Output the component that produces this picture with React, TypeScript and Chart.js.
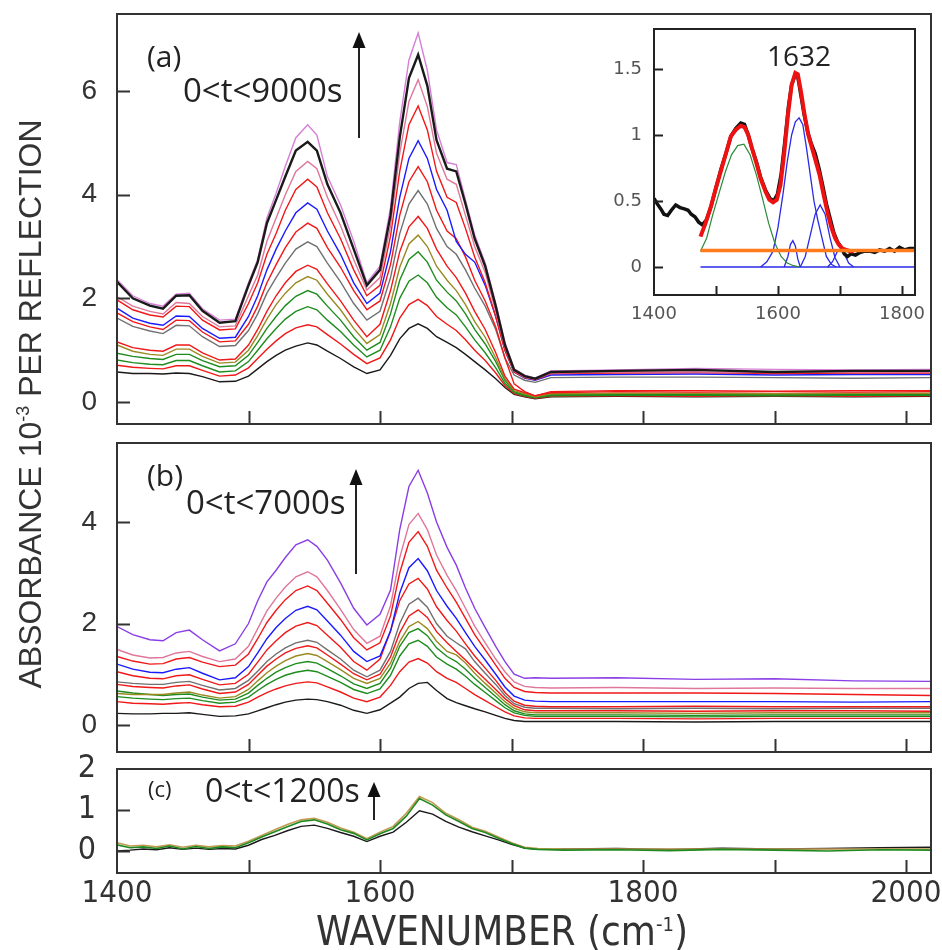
import React, { useEffect, useRef } from "react";
import { Chart, registerables } from "chart.js";
Chart.register(...registerables);

// ---------- DATA ----------
const WN = [1400,1412,1425,1435,1445,1455,1465,1478,1490,1500,1507,1514,1521,1528,1536,1545,1552,1560,1570,1580,1590,1600,1608,1615,1622,1629,1636,1643,1651,1658,1665,1672,1680,1688,1695,1702,1710,1718,1730,1780,1840,1900,1960,2019];

// panel (a) 0<t<9000s
const aViolet = [2.36,2.05,1.90,1.85,2.08,2.10,1.80,1.58,1.60,2.30,2.75,3.55,4.03,4.55,5.10,5.35,5.15,4.35,3.80,3.10,2.30,2.62,3.75,5.40,6.60,7.12,6.40,5.25,4.62,4.58,3.90,3.22,2.68,1.90,1.15,0.64,0.52,0.46,0.60,0.62,0.65,0.63,0.62,0.63];
const aBlackTop = [2.32,2.00,1.86,1.80,2.05,2.06,1.76,1.53,1.56,2.25,2.70,3.45,3.90,4.35,4.85,5.02,4.85,4.20,3.65,2.95,2.25,2.55,3.60,5.10,6.25,6.70,6.10,5.05,4.50,4.45,3.82,3.15,2.62,1.85,1.10,0.62,0.50,0.45,0.58,0.60,0.62,0.58,0.60,0.60];
const aPink = [2.03,1.85,1.75,1.70,1.92,1.90,1.65,1.45,1.47,2.05,2.45,3.10,3.55,4.00,4.45,4.64,4.50,3.95,3.40,2.75,2.16,2.40,3.40,4.80,5.80,6.22,5.70,4.80,4.30,4.20,3.60,3.00,2.50,1.75,1.05,0.60,0.48,0.44,0.56,0.58,0.58,0.57,0.58,0.58];
const aRed1 = [1.97,1.78,1.68,1.64,1.85,1.84,1.58,1.39,1.41,1.90,2.30,2.85,3.25,3.70,4.10,4.30,4.15,3.65,3.15,2.55,2.05,2.25,3.20,4.45,5.35,5.71,5.25,4.45,3.95,3.85,3.35,2.80,2.30,1.65,1.00,0.58,0.47,0.43,0.55,0.56,0.57,0.55,0.56,0.56];
const aBlue = [1.81,1.62,1.52,1.48,1.66,1.65,1.42,1.23,1.25,1.65,2.05,2.55,2.95,3.30,3.65,3.84,3.72,3.30,2.85,2.30,1.90,2.10,2.90,3.95,4.70,5.04,4.70,4.10,3.70,3.10,2.85,2.70,2.25,1.65,1.00,0.58,0.46,0.42,0.52,0.53,0.54,0.52,0.53,0.53];
const aRed2 = [1.72,1.55,1.45,1.40,1.58,1.57,1.35,1.16,1.18,1.50,1.85,2.30,2.65,2.98,3.28,3.45,3.35,2.98,2.60,2.15,1.78,1.95,2.65,3.60,4.25,4.54,4.25,3.70,3.30,3.15,2.80,2.35,1.95,1.45,0.85,0.35,0.20,0.12,0.20,0.22,0.22,0.21,0.22,0.22];
const aGray = [1.62,1.46,1.37,1.32,1.48,1.47,1.26,1.07,1.09,1.38,1.70,2.10,2.40,2.68,2.95,3.09,3.00,2.68,2.32,1.90,1.58,1.75,2.40,3.25,3.82,4.08,3.82,3.35,3.00,2.85,2.55,2.20,1.85,1.40,0.85,0.52,0.42,0.38,0.47,0.48,0.48,0.47,0.46,0.47];
const aRed3 = [1.16,1.05,1.00,0.98,1.10,1.10,0.95,0.81,0.83,1.10,1.40,1.75,2.05,2.30,2.52,2.64,2.56,2.28,1.95,1.58,1.26,1.50,2.15,2.90,3.38,3.58,3.35,2.95,2.62,2.40,2.10,1.75,1.40,0.95,0.50,0.25,0.18,0.12,0.18,0.20,0.19,0.20,0.19,0.20];
const aOlive = [1.10,0.98,0.92,0.90,1.02,1.02,0.88,0.75,0.77,1.00,1.28,1.60,1.88,2.10,2.30,2.42,2.35,2.08,1.78,1.42,1.13,1.30,1.90,2.60,3.05,3.22,3.00,2.62,2.35,2.15,1.88,1.55,1.25,0.85,0.45,0.22,0.16,0.10,0.16,0.17,0.17,0.16,0.17,0.17];
const aGreen1 = [0.94,0.88,0.84,0.82,0.92,0.92,0.80,0.68,0.70,0.90,1.15,1.42,1.65,1.86,2.04,2.15,2.08,1.85,1.58,1.26,1.00,1.15,1.70,2.35,2.75,2.90,2.70,2.35,2.12,1.95,1.70,1.40,1.12,0.78,0.42,0.20,0.14,0.09,0.14,0.15,0.14,0.15,0.14,0.15];
const aGreen2 = [0.81,0.76,0.73,0.72,0.80,0.80,0.70,0.58,0.60,0.78,1.00,1.22,1.42,1.60,1.75,1.84,1.78,1.58,1.36,1.10,0.87,1.00,1.45,2.00,2.33,2.45,2.30,2.02,1.82,1.68,1.45,1.20,0.95,0.66,0.36,0.18,0.12,0.08,0.12,0.13,0.13,0.12,0.13,0.13];
const aRed4 = [0.71,0.67,0.65,0.64,0.70,0.70,0.61,0.50,0.52,0.66,0.84,1.02,1.18,1.32,1.43,1.49,1.45,1.30,1.12,0.92,0.74,0.85,1.20,1.62,1.88,1.98,1.86,1.65,1.50,1.38,1.20,1.00,0.80,0.56,0.32,0.16,0.11,0.07,0.11,0.12,0.11,0.12,0.11,0.12];
const aBlackBottom = [0.58,0.55,0.55,0.54,0.56,0.55,0.49,0.39,0.40,0.50,0.64,0.78,0.90,1.00,1.08,1.14,1.10,0.98,0.84,0.68,0.55,0.62,0.90,1.22,1.42,1.51,1.42,1.26,1.15,1.05,0.92,0.78,0.62,0.45,0.28,0.15,0.10,0.06,0.10,0.11,0.10,0.11,0.10,0.11];

// panel (b) 0<t<7000s
const bPurple = [1.94,1.78,1.68,1.66,1.82,1.87,1.68,1.46,1.60,2.00,2.45,2.82,3.05,3.30,3.55,3.65,3.52,3.25,2.80,2.30,1.97,2.18,2.66,3.85,4.70,5.02,4.57,4.00,3.50,3.15,2.70,2.30,1.92,1.55,1.25,1.00,0.92,0.93,0.92,0.93,0.90,0.91,0.87,0.86];
const bPink = [1.49,1.38,1.32,1.33,1.42,1.45,1.35,1.25,1.30,1.55,1.90,2.25,2.50,2.72,2.92,3.02,2.92,2.65,2.28,1.88,1.61,1.75,2.35,3.30,3.95,4.17,3.85,3.35,2.95,2.65,2.30,1.95,1.62,1.30,1.05,0.85,0.76,0.74,0.73,0.74,0.72,0.73,0.72,0.72];
const bRed1 = [1.35,1.26,1.20,1.21,1.30,1.33,1.24,1.15,1.18,1.40,1.70,2.02,2.26,2.47,2.65,2.74,2.65,2.40,2.08,1.72,1.48,1.62,2.15,3.00,3.60,3.81,3.52,3.05,2.70,2.42,2.10,1.78,1.48,1.18,0.92,0.74,0.66,0.64,0.63,0.63,0.63,0.62,0.60,0.58];
const bBlue = [1.20,1.10,1.04,1.03,1.10,1.13,1.02,0.89,0.93,1.15,1.42,1.70,1.92,2.10,2.26,2.34,2.27,2.05,1.77,1.45,1.25,1.36,1.85,2.60,3.10,3.28,3.04,2.65,2.34,2.10,1.82,1.55,1.28,1.00,0.75,0.57,0.49,0.47,0.46,0.46,0.46,0.46,0.45,0.46];
const bRed2 = [1.05,0.97,0.92,0.91,0.97,0.99,0.90,0.79,0.82,1.00,1.24,1.48,1.66,1.82,1.95,2.02,1.96,1.77,1.53,1.25,1.08,1.30,1.85,2.45,2.78,2.89,2.68,2.33,2.06,1.85,1.60,1.36,1.12,0.88,0.64,0.47,0.39,0.37,0.36,0.36,0.37,0.36,0.36,0.36];
const bGray = [0.85,0.82,0.80,0.80,0.84,0.86,0.78,0.69,0.72,0.88,1.06,1.25,1.40,1.52,1.62,1.67,1.63,1.48,1.30,1.08,0.95,1.08,1.45,2.00,2.38,2.50,2.32,2.00,1.75,1.62,1.50,1.25,1.02,0.80,0.58,0.42,0.35,0.33,0.33,0.32,0.33,0.32,0.33,0.33];
const bRed3 = [0.80,0.76,0.74,0.73,0.77,0.79,0.71,0.62,0.65,0.80,0.98,1.16,1.30,1.42,1.51,1.56,1.52,1.38,1.20,1.01,0.89,1.00,1.34,1.82,2.15,2.27,2.12,1.84,1.62,1.45,1.28,1.10,0.90,0.70,0.52,0.38,0.30,0.28,0.28,0.28,0.27,0.28,0.28,0.27];
const bOlive = [0.62,0.60,0.60,0.60,0.63,0.65,0.59,0.53,0.56,0.70,0.87,1.03,1.16,1.27,1.36,1.41,1.37,1.25,1.09,0.92,0.82,0.92,1.22,1.65,1.94,2.04,1.90,1.65,1.45,1.38,1.22,1.02,0.82,0.63,0.46,0.33,0.26,0.24,0.24,0.24,0.23,0.24,0.24,0.24];
const bGreen1 = [0.67,0.63,0.60,0.58,0.60,0.61,0.55,0.49,0.51,0.63,0.78,0.92,1.04,1.13,1.21,1.25,1.22,1.11,0.97,0.81,0.72,0.82,1.12,1.55,1.82,1.90,1.76,1.52,1.35,1.25,1.10,0.92,0.74,0.56,0.40,0.28,0.22,0.20,0.20,0.20,0.19,0.20,0.20,0.20];
const bGreen2 = [0.56,0.53,0.51,0.50,0.52,0.53,0.48,0.43,0.45,0.55,0.68,0.80,0.90,0.98,1.04,1.08,1.05,0.96,0.84,0.70,0.62,0.71,0.98,1.36,1.60,1.67,1.55,1.34,1.20,1.10,0.96,0.80,0.64,0.48,0.34,0.24,0.19,0.17,0.17,0.17,0.16,0.17,0.17,0.17];
const bRed4 = [0.46,0.43,0.42,0.41,0.43,0.44,0.40,0.36,0.37,0.45,0.55,0.64,0.71,0.77,0.82,0.85,0.83,0.75,0.65,0.53,0.46,0.55,0.78,1.05,1.24,1.31,1.22,1.05,0.92,0.84,0.72,0.60,0.48,0.36,0.26,0.18,0.14,0.13,0.13,0.13,0.12,0.13,0.13,0.13];
const bBlack = [0.23,0.22,0.22,0.23,0.23,0.24,0.21,0.17,0.18,0.22,0.28,0.34,0.40,0.45,0.49,0.51,0.50,0.46,0.39,0.29,0.23,0.30,0.43,0.55,0.72,0.82,0.84,0.68,0.52,0.44,0.38,0.32,0.26,0.19,0.13,0.09,0.07,0.07,0.07,0.07,0.06,0.07,0.07,0.07];

// panel (c) 0<t<1200s
const WNC = [1400,1410,1420,1430,1440,1450,1460,1470,1480,1490,1500,1510,1520,1530,1540,1550,1560,1570,1580,1590,1600,1610,1620,1630,1640,1650,1660,1670,1680,1690,1700,1710,1720,1740,1780,1820,1860,1900,1940,1980,2019];
const cGreen = [0.15,0.08,0.10,0.06,0.12,0.05,0.11,0.06,0.10,0.08,0.20,0.34,0.47,0.60,0.72,0.76,0.66,0.52,0.43,0.27,0.42,0.55,0.85,1.28,1.12,0.88,0.72,0.55,0.45,0.31,0.18,0.07,0.04,0.02,0.03,0.01,0.04,0.02,0.00,0.03,0.02];
const cOlive = [0.20,0.12,0.14,0.10,0.15,0.09,0.14,0.10,0.13,0.12,0.24,0.38,0.52,0.65,0.76,0.80,0.70,0.56,0.46,0.30,0.46,0.60,0.92,1.33,1.18,0.92,0.76,0.58,0.48,0.34,0.20,0.09,0.06,0.05,0.05,0.05,0.05,0.05,0.05,0.05,0.05];
const cBlack = [0.00,0.02,0.05,0.03,0.08,0.04,0.07,0.04,0.06,0.05,0.14,0.28,0.38,0.50,0.60,0.63,0.55,0.45,0.36,0.23,0.36,0.46,0.70,0.98,0.90,0.72,0.58,0.47,0.37,0.27,0.16,0.07,0.04,0.05,0.06,0.04,0.07,0.05,0.06,0.08,0.09];

// inset (fit of band at 1632)
const insDataWN = [1400,1405,1411,1416,1422,1428,1435,1442,1449,1455,1460,1466,1472,1478,1485,1492,1500,1508,1516,1524,1532,1540,1546,1552,1558,1565,1572,1580,1587,1593,1599,1605,1611,1617,1622,1628,1632,1637,1642,1648,1654,1660,1666,1672,1678,1684,1690,1696,1702,1707,1712,1718,1725,1732,1740,1748,1756,1764,1772,1780,1788,1796,1804,1812,1821];
const insData = [0.52,0.48,0.44,0.40,0.39,0.43,0.47,0.45,0.44,0.43,0.40,0.38,0.34,0.32,0.36,0.46,0.60,0.74,0.86,0.99,1.05,1.09,1.08,1.00,0.90,0.80,0.68,0.58,0.52,0.50,0.55,0.70,0.95,1.22,1.38,1.46,1.44,1.30,1.16,1.02,0.93,0.86,0.75,0.62,0.48,0.37,0.26,0.19,0.15,0.10,0.08,0.10,0.09,0.11,0.12,0.12,0.11,0.13,0.12,0.14,0.12,0.15,0.13,0.14,0.14];
const insFitWN = [1475,1483,1492,1500,1508,1516,1524,1532,1540,1546,1552,1558,1565,1572,1580,1586,1592,1598,1604,1610,1616,1622,1628,1632,1637,1643,1649,1655,1661,1667,1673,1680,1686,1692,1698,1704,1710,1716,1722];
const insFit = [0.23,0.33,0.46,0.60,0.73,0.86,0.99,1.04,1.07,1.06,1.00,0.90,0.79,0.67,0.57,0.51,0.49,0.51,0.62,0.86,1.15,1.38,1.47,1.46,1.33,1.15,1.00,0.90,0.80,0.70,0.56,0.41,0.30,0.22,0.17,0.14,0.13,0.12,0.12];
const insAmideIIWN = [1475,1485,1495,1505,1515,1525,1535,1545,1555,1565,1575,1585,1595,1605,1615,1625,1635];
const insAmideII = [0.12,0.22,0.40,0.56,0.72,0.85,0.92,0.93,0.85,0.70,0.52,0.33,0.18,0.08,0.03,0.01,0.0];
const insBand1632WN = [1572,1582,1592,1600,1608,1615,1622,1628,1634,1640,1646,1652,1658,1664,1670,1678,1686,1694];
const insBand1632 = [0.0,0.04,0.12,0.30,0.55,0.80,1.00,1.10,1.13,1.08,0.90,0.70,0.50,0.36,0.24,0.08,0.02,0.0];
const insBand1624WN = [1610,1616,1620,1624,1628,1632,1636];
const insBand1624 = [0,0.08,0.17,0.20,0.16,0.06,0];
const insBand1668WN = [1636,1644,1652,1660,1668,1676,1684,1692,1700];
const insBand1668 = [0,0.08,0.24,0.40,0.47,0.40,0.22,0.07,0];
const insBand1700WN = [1680,1688,1696,1702,1708,1714,1722];
const insBand1700 = [0,0.04,0.12,0.14,0.09,0.03,0];
const insBaseWN = [1475,1821];
const insZero = [0,0];
const insOffset = [0.125,0.125];

const MAIN_X_TICKS = [1400,1600,1800,2000];
const MAIN_X_MARKS = [1500,1600,1700,1800,1900,2000];
const A_Y_TICKS = [0,2,4,6];
const B_Y_TICKS = [0,2,4];
const C_Y_TICKS = [0,1,2];
const INS_X_TICKS = [1400,1600,1800];
const INS_X_MARKS = [1500,1600,1700,1800];
const INS_Y_TICKS = [0,0.5,1,1.5];

// ---------- helpers ----------
const pts = (xs: number[], ys: number[]) => xs.map((x, i) => ({ x, y: ys[i] }));

const zeroPad = (sc: any) => {
  sc.paddingTop = 0; sc.paddingBottom = 0; sc.paddingLeft = 0; sc.paddingRight = 0;
};

const framePlugin = {
  id: "frame",
  beforeDatasetsDraw(chart: any, _a: any, opts: any) {
    if (!opts || !opts.fill) return;
    const { ctx, chartArea: c } = chart;
    ctx.save();
    ctx.fillStyle = opts.fill;
    ctx.fillRect(c.left, c.top, c.right - c.left, c.bottom - c.top);
    ctx.restore();
  },
  afterDatasetsDraw(chart: any, _a: any, opts: any) {
    const { ctx, chartArea: c, scales } = chart;
    ctx.save();
    ctx.strokeStyle = opts.color || "#333";
    ctx.lineWidth = opts.width || 2;
    ctx.beginPath();
    for (const v of opts.xMarks || []) {
      const p = Math.round(scales.x.getPixelForValue(v)) + 0.5;
      ctx.moveTo(p, c.bottom);
      ctx.lineTo(p, c.bottom - opts.len);
    }
    for (const v of opts.yMarks || []) {
      const p = Math.round(scales.y.getPixelForValue(v)) + 0.5;
      ctx.moveTo(c.left, p);
      ctx.lineTo(c.left + opts.len, p);
    }
    ctx.stroke();
    ctx.strokeRect(c.left, c.top, c.right - c.left, c.bottom - c.top);
    ctx.restore();
  },
};

type S = { xs: number[]; ys: number[]; color: string; w?: number };

const NARROW = "'Liberation Sans Narrow', 'DejaVu Sans Condensed', sans-serif";

function mainConfig(p: {
  series: S[]; yMin: number; yMax: number; yTicks: number[]; yMarks: number[];
  padTop: number; padBottom: number; showX: boolean; yFont: any; yPad: number;
}) {
  return {
    type: "line",
    data: {
      datasets: p.series.map((s) => ({
        data: pts(s.xs, s.ys), borderColor: s.color, borderWidth: s.w ?? 1.4,
        pointRadius: 0, tension: 0, fill: false,
      })),
    },
    options: {
      animation: false, responsive: false, maintainAspectRatio: false, events: [],
      layout: { padding: { left: 67, right: 11, top: p.padTop, bottom: p.padBottom } },
      plugins: {
        legend: { display: false }, tooltip: { enabled: false },
        frame: { xMarks: MAIN_X_MARKS, yMarks: p.yMarks, len: 13, width: 2, color: "#333" },
      },
      scales: {
        x: {
          type: "linear", min: 1400, max: 2019, display: p.showX,
          grid: { display: false, drawTicks: false }, border: { display: false },
          afterBuildTicks: (sc: any) => { sc.ticks = MAIN_X_TICKS.map((v) => ({ value: v })); },
          afterFit: (sc: any) => { zeroPad(sc); if (p.showX) sc.height = 77; },
          ticks: {
            autoSkip: false, maxRotation: 0, padding: 2, color: "#333",
            font: { family: NARROW, size: 31 },
            callback: (v: any) => String(v),
          },
        },
        y: {
          type: "linear", min: p.yMin, max: p.yMax,
          grid: { display: false, drawTicks: false }, border: { display: false },
          afterBuildTicks: (sc: any) => { sc.ticks = p.yTicks.map((v) => ({ value: v })); },
          afterFit: (sc: any) => { zeroPad(sc); sc.width = 50; },
          ticks: { autoSkip: false, padding: p.yPad, color: "#333", font: p.yFont, callback: (v: any) => String(v) },
        },
      },
    },
    plugins: [framePlugin],
  };
}

const C_VIOLET = "#d67fd6", C_BLACK = "#1a1a1a", C_PINK = "#e0779a", C_RED = "#f01818",
  C_BLUE = "#1a1aff", C_GRAY = "#707070", C_OLIVE = "#9a8a22", C_GREEN = "#1e8c1e", C_PURPLE = "#8a3ee6";

const Y_FONT = { family: "'Liberation Sans', Arial, sans-serif", size: 28 };

export default function App() {
  const refA = useRef<HTMLCanvasElement>(null);
  const refB = useRef<HTMLCanvasElement>(null);
  const refC = useRef<HTMLCanvasElement>(null);
  const refI = useRef<HTMLCanvasElement>(null);

  useEffect(() => {
    const cfgA: any = mainConfig({
      series: [
        { xs: WN, ys: aBlackTop, color: C_BLACK, w: 2.4 },
        { xs: WN, ys: aViolet, color: C_VIOLET },
        { xs: WN, ys: aPink, color: C_PINK },
        { xs: WN, ys: aRed1, color: C_RED },
        { xs: WN, ys: aBlue, color: C_BLUE },
        { xs: WN, ys: aRed2, color: C_RED },
        { xs: WN, ys: aGray, color: C_GRAY },
        { xs: WN, ys: aRed3, color: C_RED },
        { xs: WN, ys: aOlive, color: C_OLIVE },
        { xs: WN, ys: aGreen1, color: C_GREEN },
        { xs: WN, ys: aGreen2, color: C_GREEN },
        { xs: WN, ys: aRed4, color: C_RED },
        { xs: WN, ys: aBlackBottom, color: C_BLACK },
      ],
      yMin: -0.424, yMax: 7.486, yTicks: A_Y_TICKS, yMarks: A_Y_TICKS,
      padTop: 14, padBottom: 12, showX: false, yFont: Y_FONT, yPad: 20,
    });
    const cfgB: any = mainConfig({
      series: [
        { xs: WN, ys: bPurple, color: C_PURPLE },
        { xs: WN, ys: bPink, color: C_PINK },
        { xs: WN, ys: bRed1, color: C_RED },
        { xs: WN, ys: bBlue, color: C_BLUE },
        { xs: WN, ys: bRed2, color: C_RED },
        { xs: WN, ys: bGray, color: C_GRAY },
        { xs: WN, ys: bRed3, color: C_RED },
        { xs: WN, ys: bOlive, color: C_OLIVE },
        { xs: WN, ys: bGreen1, color: C_GREEN },
        { xs: WN, ys: bGreen2, color: C_GREEN },
        { xs: WN, ys: bRed4, color: C_RED },
        { xs: WN, ys: bBlack, color: C_BLACK },
      ],
      yMin: -0.532, yMax: 5.557, yTicks: B_Y_TICKS, yMarks: B_Y_TICKS,
      padTop: 7, padBottom: 8, showX: false, yFont: Y_FONT, yPad: 20,
    });
    const cfgC: any = mainConfig({
      series: [
        { xs: WNC, ys: cGreen, color: "#1f8a1f", w: 1.6 },
        { xs: WNC, ys: cOlive, color: "#c09a50", w: 1.6 },
        { xs: WNC, ys: cBlack, color: C_BLACK, w: 1.4 },
      ],
      yMin: -0.537, yMax: 2, yTicks: C_Y_TICKS, yMarks: [0, 1],
      padTop: 29, padBottom: 0, showX: true,
      yFont: { family: NARROW, size: 32 }, yPad: 21,
    });
    const insSeries: S[] = [
      { xs: insBaseWN, ys: insOffset, color: "#ff7a1a", w: 3.5 },
      { xs: insFitWN, ys: insFit, color: "#ee1111", w: 4 },
      { xs: insDataWN, ys: insData, color: "#111111", w: 3.5 },
      { xs: insAmideIIWN, ys: insAmideII, color: "#2a8a3a", w: 1.2 },
      { xs: insBand1632WN, ys: insBand1632, color: "#2a2ae8", w: 1.3 },
      { xs: insBand1624WN, ys: insBand1624, color: "#2a2ae8", w: 1.3 },
      { xs: insBand1668WN, ys: insBand1668, color: "#2a2ae8", w: 1.3 },
      { xs: insBand1700WN, ys: insBand1700, color: "#2a2ae8", w: 1.3 },
      { xs: insBaseWN, ys: insZero, color: "#2a2ae8", w: 1.6 },
    ];
    const insFont = { family: "'DejaVu Sans', sans-serif", size: 18 };
    const cfgI: any = {
      type: "line",
      data: {
        datasets: insSeries.map((s) => ({
          data: pts(s.xs, s.ys), borderColor: s.color, borderWidth: s.w ?? 1.4,
          pointRadius: 0, tension: 0, fill: false,
        })),
      },
      options: {
        animation: false, responsive: false, maintainAspectRatio: false, events: [],
        layout: { padding: { left: 14, right: 15, top: 9, bottom: 0 } },
        plugins: {
          legend: { display: false }, tooltip: { enabled: false },
          frame: { xMarks: INS_X_MARKS, yMarks: INS_Y_TICKS, len: 9, width: 2, color: "#222", fill: "#ffffff" },
        },
        scales: {
          x: {
            type: "linear", min: 1400, max: 1821,
            grid: { display: false, drawTicks: false }, border: { display: false },
            afterBuildTicks: (sc: any) => { sc.ticks = INS_X_TICKS.map((v) => ({ value: v })); },
            afterFit: (sc: any) => { zeroPad(sc); sc.height = 36; },
            ticks: { autoSkip: false, maxRotation: 0, padding: 9, color: "#555", font: insFont, callback: (v: any) => String(v) },
          },
          y: {
            type: "linear", min: -0.212, max: 1.803,
            grid: { display: false, drawTicks: false }, border: { display: false },
            afterBuildTicks: (sc: any) => { sc.ticks = INS_Y_TICKS.map((v) => ({ value: v })); },
            afterFit: (sc: any) => { zeroPad(sc); sc.width = 40; },
            ticks: { autoSkip: false, padding: 12, color: "#555", font: insFont, callback: (v: any) => String(v) },
          },
        },
      },
      plugins: [framePlugin],
    };
    const charts = [
      new Chart(refA.current!, cfgA),
      new Chart(refB.current!, cfgB),
      new Chart(refC.current!, cfgC),
      new Chart(refI.current!, cfgI),
    ];
    return () => charts.forEach((c) => c.destroy());
  }, []);

  const ann = "'Open Sans', 'DejaVu Sans', sans-serif";
  const txt = (left: number, cy: number, size: number, content: React.ReactNode) => (
    <div style={{ position: "absolute", left, top: cy, transform: "translateY(-50%)", fontFamily: ann, fontSize: size, color: "#222", whiteSpace: "nowrap", lineHeight: 1 }}>{content}</div>
  );

  return (
    <div style={{ position: "absolute", left: 0, top: 0, width: 942, height: 950, background: "#fff", overflow: "hidden" }}>
      <canvas ref={refA} width={942} height={436} style={{ position: "absolute", left: 0, top: 0 }} />
      <canvas ref={refB} width={942} height={324} style={{ position: "absolute", left: 0, top: 436 }} />
      <canvas ref={refC} width={942} height={210} style={{ position: "absolute", left: 0, top: 740 }} />
      <canvas ref={refI} width={330} height={311} style={{ position: "absolute", left: 600, top: 20 }} />

      {txt(147, 56, 30, "(a)")}
      {txt(183, 89, 33, "0<t<9000s")}
      {txt(147, 475, 30, "(b)")}
      {txt(186, 501, 33, "0<t<7000s")}
      {txt(148, 788, 22, "(c)")}
      {txt(205, 790, 32, "0<t<1200s")}
      <div style={{ position: "absolute", left: 799, top: 55, transform: "translate(-50%,-50%)", fontFamily: ann, fontSize: 28, color: "#222", lineHeight: 1 }}>1632</div>

      <svg width={942} height={950} style={{ position: "absolute", left: 0, top: 0, pointerEvents: "none" }}>
        <g stroke="#222" strokeWidth={2}>
          <line x1={359} y1={138} x2={359} y2={46} />
          <line x1={356} y1={574} x2={356} y2={483} />
          <line x1={374} y1={820} x2={374} y2={795} />
        </g>
        <g fill="#111">
          <polygon points="352.5,48 365.5,48 359,32" />
          <polygon points="349.5,485 362.5,485 356,469" />
          <polygon points="367.5,797 380.5,797 374,782" />
        </g>
      </svg>

      <div style={{ position: "absolute", left: 30, top: 404, transform: "translate(-50%,-50%) rotate(-90deg)", fontFamily: "'Liberation Sans', Arial, sans-serif", fontSize: 32, color: "#333", whiteSpace: "nowrap", lineHeight: 1 }}>
        ABSORBANCE 10<sup style={{ fontSize: 18 }}>-3</sup> PER REFLECTION
      </div>
      <div style={{ position: "absolute", left: 502, top: 931, transform: "translate(-50%,-50%)", fontFamily: NARROW, fontSize: 40, color: "#333", whiteSpace: "nowrap", lineHeight: 1 }}>
        WAVENUMBER (cm<sup style={{ fontSize: 20 }}>-1</sup>)
      </div>
    </div>
  );
}
